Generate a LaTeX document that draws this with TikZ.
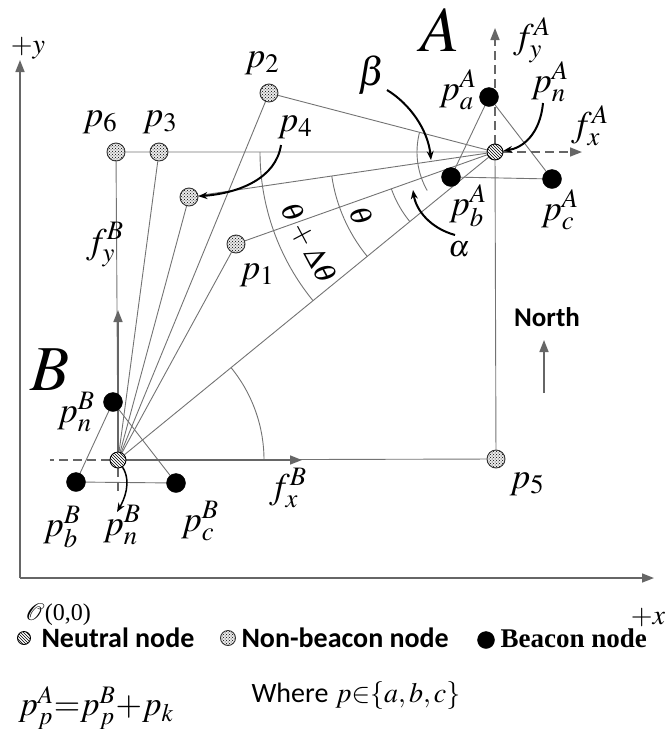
\documentclass[tikz,border=0pt]{standalone}
\usepackage{mathptmx}
\usepackage{fontspec}
\setmainfont{Liberation Serif}
\newfontfamily\legendsans{Carlito}
\usetikzlibrary{patterns,arrows.meta,backgrounds}

\begin{document}
\begin{tikzpicture}[
	x=1pt, y=-1pt,
	neutral/.style={ circle, draw, line width=0.9pt, preaction={fill=white}, pattern=north west lines, inner sep=0pt, minimum size=16pt },
	nonbeacon/.style={ circle, draw=black!80, line width=0.9pt, preaction={fill=black!8}, pattern=crosshatch dots, inner sep=0pt, minimum size=18pt },
	beacon/.style={ circle, draw, fill, inner sep=0pt, minimum size=19pt },
	edge/.style={ black!55, line width=0.9pt },
	axis/.style={ black!60, line width=1.6pt, -{Triangle[length=12pt,width=9pt]} },
	dashaxis/.style={ axis, dash pattern=on 9pt off 5pt },
	pointer/.style={ black, line width=2pt, -{Stealth[length=9pt,width=7pt]} },
	plab/.style={ font=\fontsize{36}{38}\selectfont },
	biglab/.style={ font=\fontsize{64}{64}\selectfont },
	anglab/.style={ font=\fontsize{30}{32}\selectfont }
]
\useasboundingbox (0,0) rectangle (666,729);

\coordinate (orig) at (20,578);
\coordinate (yend) at (20,60);
\coordinate (xend) at (654,578);
\node at (28,48) (ylab) [font=\fontsize{28}{30}\selectfont] {$+y$};
\node at (648,617) (xlab) [font=\fontsize{28}{30}\selectfont] {$+x$};
\node at (58,615) (olab) [font=\fontsize{24}{26}\selectfont] {$\mathcal{O}$(0,0)};

% neutral nodes
\node at (495,152) (nA) [neutral] {};
\node at (118,460) (nB) [neutral] {};

% non-beacon nodes
\node at (236,244) (p1) [nonbeacon] {};
\node at (269,93) (p2) [nonbeacon] {};
\node at (159,152) (p3) [nonbeacon] {};
\node at (189,197) (p4) [nonbeacon] {};
\node at (496,459) (p5) [nonbeacon] {};
\node at (116,152) (p6) [nonbeacon] {};

% beacons round A and B
\node at (489,97) (paA) [beacon] {};
\node at (451,177) (pbA) [beacon] {};
\node at (552,179) (pcA) [beacon] {};
\node at (113,402) (pnB) [beacon] {};
\node at (76,482) (pbB) [beacon] {};
\node at (176,483) (pcB) [beacon] {};

\coordinate (fxAend) at (582,152);
\coordinate (fyAend) at (495,28);
\coordinate (fxBend) at (302,460);
\coordinate (fyBend) at (118,310);
\coordinate (fxBneg) at (50,460);
\coordinate (fyBneg) at (118,492);

\begin{scope}[on background layer]
\draw[axis] (orig) -- (yend);
\draw[axis] (orig) -- (xend);
\draw[edge] (p6) -- (p3) -- (nA) -- (p5) -- (nB) -- (p6);
\foreach \p in {p3,p4,p1,p2,nA} \draw[edge] (nB) -- (\p);
\foreach \p in {p2,p4,p1} \draw[edge] (nA) -- (\p);
\draw[edge] (paA) -- (pbA) -- (pcA) -- (paA);
\draw[edge] (pnB) -- (pbB) -- (pcB) -- (pnB);
% angles
\draw[edge] (nB.center) ++(0:146) arc[start angle=0, end angle=-39.25, radius=146];
\draw[edge] (nA.center) ++(180:235) arc[start angle=180, end angle=140.75, radius=235];
\draw[edge] (nA.center) ++(171.63:165) arc[start angle=171.63, end angle=140.75, radius=165];
\draw[edge] (nA.center) ++(160.44:110) arc[start angle=160.44, end angle=140.75, radius=110];
\draw[edge] (nA.center) ++(194.63:78) arc[start angle=194.63, end angle=150.4, radius=78];
% local frames
\draw[dashaxis] (nA) -- (fxAend);
\draw[dashaxis] (nA) -- (fyAend);
\draw[axis] (nB) -- (fxBend);
\draw[axis] (nB) -- (fyBend);
\draw[edge, black!60, line width=1.3pt, dash pattern=on 9pt off 5pt] (nB) -- (fxBneg);
\draw[edge, black!60, line width=1.3pt, dash pattern=on 9pt off 5pt] (nB) -- (fyBneg);
\end{scope}

% labels
\node at (440,30) (lA) [biglab] {$A$};
\node at (50,370) (lB) [biglab] {$B$};
\node at (532,40) (lfyA) [plab] {$f_y^A$};
\node at (590,126) (lfxA) [plab] {$f_x^A$};
\node at (458,90) (lpaA) [plab] {$p_a^A$};
\node at (550,82) (lpnA) [plab] {$p_n^A$};
\node at (468,206) (lpbA) [plab] {$p_b^A$};
\node at (560,210) (lpcA) [plab] {$p_c^A$};
\node at (372,75) (lbeta) [font=\fontsize{40}{42}\selectfont] {$\beta$};
\node at (459,249) (lalpha) [anglab] {$\alpha$};
\node at (361,216) (ltheta) [anglab, rotate=-65] {$\theta$};
\node at (308,243) (lthetad) [anglab, rotate=-62] {$\theta+\Delta\theta$};
\node at (257,275) (lp1) [plab] {$p_1$};
\node at (262,63) (lp2) [plab] {$p_2$};
\node at (160,122) (lp3) [plab] {$p_3$};
\node at (295,127) (lp4) [plab] {$p_4$};
\node at (527,484) (lp5) [plab] {$p_5$};
\node at (100,122) (lp6) [plab] {$p_6$};
\node at (105,245) (lfyB) [plab] {$f_y^B$};
\node at (288,488) (lfxB) [plab] {$f_x^B$};
\node at (76,412) (lpnB) [plab] {$p_n^B$};
\node at (62,527) (lpbB) [plab] {$p_b^B$};
\node at (122,525) (lpnBb) [plab] {$p_n^B$};
\node at (200,521) (lpcB) [plab] {$p_c^B$};

% pointers
\coordinate (p4tail) at (281,145);
\coordinate (pnAtail) at (543,103);
\coordinate (betatail) at (387,90);
\coordinate (betatip) at (431,160);
\coordinate (alphatail) at (455,235);
\coordinate (alphatip) at (413,190);
\coordinate (pnBtip) at (117,512);
\draw[pointer] (p4tail) .. controls (276,178) and (240,193) .. (p4);
\draw[pointer] (pnAtail) .. controls (540,135) and (522,148) .. (nA);
\draw[pointer] (betatail) .. controls (410,104) and (428,130) .. (betatip);
\draw[pointer] (alphatail) .. controls (430,228) and (416,210) .. (alphatip);
\draw[pointer, line width=1.5pt] (nB) .. controls (132,482) and (124,500) .. (pnBtip);

% north
\node at (547,317) (north) [font=\legendsans\bfseries\fontsize{27}{29}\selectfont] {North};
\coordinate (ntail) at (544,393);
\coordinate (ntip) at (544,340);
\draw[axis] (ntail) -- (ntip);

% legend
\node at (24,638) (legN) [neutral, minimum size=13pt] {};
\node at (38,638) (legNt) [anchor=west, font=\legendsans\bfseries\fontsize{28}{30}\selectfont] {Neutral node};
\node at (228,638) (legP) [nonbeacon, minimum size=15pt] {};
\node at (238,638) (legPt) [anchor=west, font=\legendsans\bfseries\fontsize{28}{30}\selectfont] {Non-beacon node};
\node at (486,640) (legB) [beacon, minimum size=17pt] {};
\node at (497,638) (legBt) [anchor=west, font=\bfseries\fontsize{27}{29}\selectfont] {Beacon node};

% relation
\node at (96,708) (rel) [font=\fontsize{34}{36}\selectfont] {$p_p^A{=}p_p^B{+}p_k$};
\node at (248,696) (where) [anchor=west, font=\fontsize{28}{30}\selectfont] {{\legendsans Where} $p{\in}\{a,b,c\}$};

\end{tikzpicture}
\end{document}
